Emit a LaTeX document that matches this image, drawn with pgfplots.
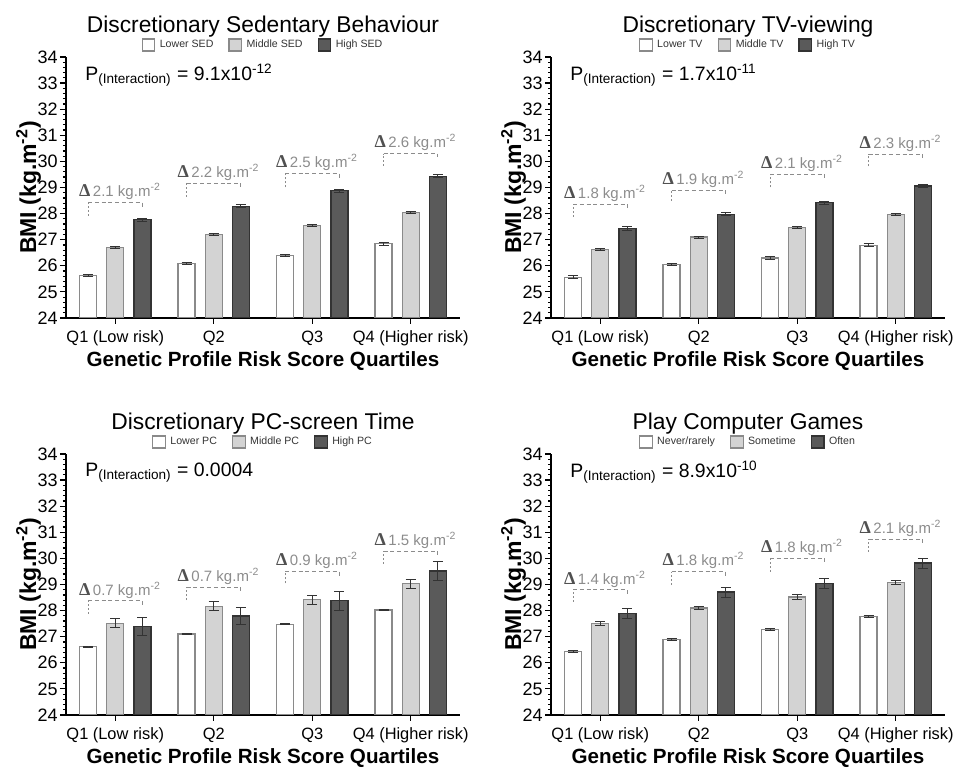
\documentclass[border=0pt]{standalone}
\usepackage{pgfplots}
\pgfplotsset{compat=1.18}
\usepackage{pgfplotstable}
\usepackage{fontspec}
\setmainfont{Liberation Sans}
\newfontfamily\deltafont{Liberation Serif}

\definecolor{barlight}{HTML}{D3D3D3}
\definecolor{bardark}{HTML}{5A5A5A}
\definecolor{edgegray}{HTML}{8A8A8A}
\definecolor{edgedark}{HTML}{333333}
\definecolor{anngray}{HTML}{8C8C8C}
\definecolor{deltagray}{HTML}{505050}

% x = quartile index; w/g/d = lower/middle/high group mean, *e = error
\pgfplotstableread{
x w we g ge d de
0 25.63 0.05 26.71 0.04 27.77 0.06
1 26.09 0.05 27.21 0.04 28.28 0.06
2 26.39 0.05 27.54 0.04 28.87 0.06
3 26.85 0.06 28.05 0.04 29.43 0.06
}\sedtab
\pgfplotstableread{
x w we g ge d de
0 25.56 0.05 26.63 0.03 27.43 0.06
1 26.05 0.05 27.10 0.04 27.98 0.06
2 26.30 0.05 27.47 0.04 28.42 0.06
3 26.79 0.06 27.97 0.04 29.06 0.06
}\tvtab
\pgfplotstableread{
x w we g ge d de
0 26.62 0.02 27.52 0.17 27.38 0.35
1 27.10 0.02 28.16 0.17 27.79 0.34
2 27.48 0.02 28.42 0.17 28.38 0.36
3 28.02 0.03 29.03 0.18 29.52 0.35
}\pctab
\pgfplotstableread{
x w we g ge d de
0 26.44 0.03 27.50 0.07 27.88 0.19
1 26.89 0.03 28.10 0.07 28.71 0.19
2 27.27 0.03 28.52 0.08 29.03 0.19
3 27.78 0.03 29.09 0.08 29.82 0.19
}\gametab

\pgfplotsset{
  panel/.style={
    scale only axis, width=197pt, height=130.5pt,
    xmin=-0.5, xmax=3.5, ymin=24, ymax=34,
    axis x line*=bottom, axis y line*=left,
    axis line style={line width=0.7pt},
    ytick={24,...,34}, minor y tick num=4,
    xtick={0,1,2,3},
    xticklabels={Q1 (Low risk),Q2,Q3,Q4 (Higher risk)},
    tick align=outside, major tick length=3pt, minor tick length=1.5pt,
    tick style={black, line width=0.6pt},
    /pgf/number format/assume math mode=true,
    yticklabel style={font=\fontsize{9}{9}\selectfont, inner sep=1pt},
    xticklabel style={font=\fontsize{8.2}{9}\selectfont},
    ylabel={BMI (kg.m\textsuperscript{-2})},
    ylabel style={font=\bfseries\fontsize{11.5}{12}\selectfont,
      at={(axis description cs:-0.076,0.5)}, anchor=base},
    xlabel={Genetic Profile Risk Score Quartiles},
    xlabel style={font=\bfseries\fontsize{10.3}{11}\selectfont,
      at={(axis description cs:0.5,0)}, anchor=base, yshift=-24.5pt},
    title style={font=\fontsize{11.4}{12}\selectfont,
      at={(axis description cs:0.5,1)}, anchor=base, yshift=6pt},
    ybar, bar width=0.173,
    error bars/y dir=both, error bars/y explicit,
    error bars/error bar style={line width=0.5pt, draw=edgedark},
    error bars/error mark options={rotate=90, mark size=2.5pt, line width=0.5pt, draw=edgedark},
    legend columns=3,
    legend style={draw=none, fill=none, at={(0.5,1)}, anchor=center, yshift=6pt,
      font=\fontsize{5.3}{6}\selectfont, text=edgedark, inner sep=0pt,
      nodes={inner sep=1pt},
      /tikz/every odd column/.append style={column sep=1.2pt},
      /tikz/every even column/.append style={column sep=6.5pt}},
    legend image code/.code={\draw[##1] (0pt,-3pt) rectangle (6.3pt,3pt);},
  },
  wbar/.style={fill=white, draw=edgegray, line width=0.6pt, bar shift=-0.276},
  gbar/.style={fill=barlight, draw=edgegray, line width=0.6pt, bar shift=0},
  dbar/.style={fill=bardark, draw=edgedark, line width=0.6pt, bar shift=0.276},
}

% bracket between lower and high bars of quartile #1, at height #2,
% left leg down to #3, labelled with the difference #4
\newcommand\ann[4]{%
  \draw[anngray, line width=0.5pt, dash pattern=on 1pt off 1pt]
    (axis cs:#1-0.276,#3) -- (axis cs:#1-0.276,#2);
  \draw[anngray, line width=0.5pt, dash pattern=on 2pt off 1.4pt]
    (axis cs:#1-0.276,#2) -- (axis cs:#1+0.276,#2) -- (axis cs:#1+0.276,#2-0.15);
  \node[anchor=west, inner sep=0pt, text=anngray, font=\fontsize{7.5}{8}\selectfont]
    at (axis cs:#1-0.37,#2+0.42)
    {{\deltafont\bfseries\fontsize{9}{9}\selectfont\color{deltagray}Δ}\,#4 kg.m\textsuperscript{-2}};
}
\newcommand\pint[1]{%
  \node[anchor=west, inner sep=0pt, font=\fontsize{9.7}{10}\selectfont]
    at (rel axis cs:0.048,0.93) {P\textsubscript{(Interaction)} = #1};
}

\begin{document}
\begin{tikzpicture}
\begin{axis}[panel, at={(33pt,-28.5pt)}, anchor=north west,
  title={Discretionary Sedentary Behaviour}]
  \addplot[wbar] table[x=x, y=w, y error=we] \sedtab;
  \addplot[gbar] table[x=x, y=g, y error=ge] \sedtab;
  \addplot[dbar] table[x=x, y=d, y error=de] \sedtab;
  \legend{Lower SED, Middle SED, High SED}
  \pint{9.1x10\textsuperscript{-12}}
  \ann{0}{28.42}{27.92}{2.1}
  \ann{1}{29.16}{28.65}{2.2}
  \ann{2}{29.53}{29.00}{2.5}
  \ann{3}{30.30}{29.83}{2.6}
\end{axis}

\begin{axis}[panel, at={(275.5pt,-28.5pt)}, anchor=north west,
  title={Discretionary TV-viewing}]
  \addplot[wbar] table[x=x, y=w, y error=we] \tvtab;
  \addplot[gbar] table[x=x, y=g, y error=ge] \tvtab;
  \addplot[dbar] table[x=x, y=d, y error=de] \tvtab;
  \legend{Lower TV, Middle TV, High TV}
  \pint{1.7x10\textsuperscript{-11}}
  \ann{0}{28.36}{27.87}{1.8}
  \ann{1}{28.90}{28.49}{1.9}
  \ann{2}{29.51}{29.00}{2.1}
  \ann{3}{30.28}{29.81}{2.3}
\end{axis}

\begin{axis}[panel, at={(33pt,-227pt)}, anchor=north west,
  title={Discretionary PC-screen Time}]
  \addplot[wbar] table[x=x, y=w, y error=we] \pctab;
  \addplot[gbar] table[x=x, y=g, y error=ge] \pctab;
  \addplot[dbar] table[x=x, y=d, y error=de] \pctab;
  \legend{Lower PC, Middle PC, High PC}
  \pint{0.0004}
  \ann{0}{28.37}{27.87}{0.7}
  \ann{1}{28.89}{28.40}{0.7}
  \ann{2}{29.49}{29.04}{0.9}
  \ann{3}{30.27}{29.79}{1.5}
\end{axis}

\begin{axis}[panel, at={(275.5pt,-227pt)}, anchor=north west,
  title={Play Computer Games}]
  \addplot[wbar] table[x=x, y=w, y error=we] \gametab;
  \addplot[gbar] table[x=x, y=g, y error=ge] \gametab;
  \addplot[dbar] table[x=x, y=d, y error=de] \gametab;
  \legend{Never/rarely, Sometime, Often}
  \pint{8.9x10\textsuperscript{-10}}
  \ann{0}{28.79}{28.34}{1.4}
  \ann{1}{29.49}{28.98}{1.8}
  \ann{2}{30.00}{29.49}{1.8}
  \ann{3}{30.74}{30.26}{2.1}
\end{axis}

\pgfresetboundingbox
\useasboundingbox (0pt,0pt) rectangle (477.5pt,-385pt);
\end{tikzpicture}
\end{document}
